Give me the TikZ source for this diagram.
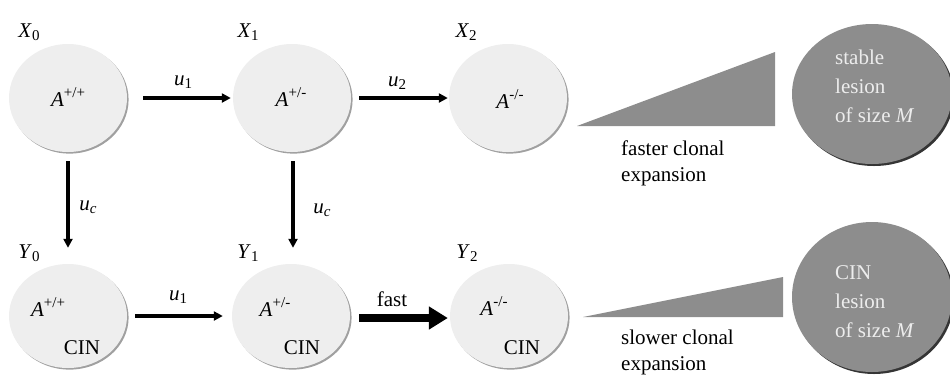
\documentclass[tikz,border=0pt]{standalone}
\usepackage{fontspec}
\setmainfont{Liberation Serif}
\usetikzlibrary{arrows.meta,shapes.geometric,shadows}
\definecolor{cellfill}{HTML}{EEEEEE}
\definecolor{cellshadow}{HTML}{A0A0A0}
\definecolor{lesionfill}{HTML}{8D8D8D}
\definecolor{lesionshadow}{HTML}{353535}
\definecolor{lesiontext}{HTML}{EDEDED}
\newcommand\sbs[1]{\raisebox{-0.35ex}{\fontsize{15}{15}\selectfont #1}}
\newcommand\sps[1]{\raisebox{0.95ex}{\fontsize{15}{15}\selectfont #1}}
\newcommand\geno[1]{\textit{A}\sps{#1}}
\begin{document}
\begin{tikzpicture}[x=1pt,y=-1pt,
  cell/.style={ellipse, fill=cellfill, inner sep=0pt, minimum width=118pt, minimum height=108pt,
    drop shadow={shadow xshift=1.6pt, shadow yshift=-1.6pt, fill=cellshadow, opacity=1}},
  cellb/.style={cell, minimum height=104pt},
  lesion/.style={ellipse, fill=lesionfill, inner sep=0pt,
    drop shadow={shadow xshift=2pt, shadow yshift=-2pt, fill=lesionshadow, opacity=1}},
  txt/.style={font=\fontsize{21}{25}\selectfont, inner sep=0pt},
  lestxt/.style={txt, text=lesiontext, align=left, anchor=west, font=\fontsize{21}{29}\selectfont},
  captxt/.style={txt, align=left, anchor=west, font=\fontsize{21}{26}\selectfont},
  arr/.style={line width=3.4pt, -{Triangle[length=9pt,width=9pt]}},
  fastarr/.style={line width=8pt, -{Triangle[length=19pt,width=22pt]}}]
\useasboundingbox (0,0) rectangle (950,376);

% cells
\node[cell] (X0) at (68,98) {};
\node[cell] (X1) at (292,98) {};
\node[cell] (X2) at (508,98) {};
\node[cellb] (Y0) at (68,316) {};
\node[cellb] (Y1) at (291,316) {};
\node[cellb] (Y2) at (509,316) {};

% state labels
\node[txt] (lX0) at (29,32) {\textit{X}\sbs{0}};
\node[txt] (lX1) at (248,32) {\textit{X}\sbs{1}};
\node[txt] (lX2) at (466,32) {\textit{X}\sbs{2}};
\node[txt] (lY0) at (29,253) {\textit{Y}\sbs{0}};
\node[txt] (lY1) at (248,253) {\textit{Y}\sbs{1}};
\node[txt] (lY2) at (467,253) {\textit{Y}\sbs{2}};

% genotypes
\node[txt] (gX0) at (68,97) {\geno{+/+}};
\node[txt] (gX1) at (291,97) {\geno{+/-}};
\node[txt] (gX2) at (510,99) {\geno{-/-}};
\node[txt] (gY0) at (48,307) {\geno{+/+}};
\node[txt] (gY1) at (275,307) {\geno{+/-}};
\node[txt] (gY2) at (494,306) {\geno{-/-}};
\node[txt] (cY0) at (82,348) {CIN};
\node[txt] (cY1) at (302,348) {CIN};
\node[txt] (cY2) at (522,348) {CIN};

% arrows
\draw[arr] ([xshift=16pt]X0.east) -- ([xshift=-2pt]X1.west);
\draw[arr] ([xshift=8pt]X1.east) -- ([xshift=-1pt]X2.west);
\draw[arr] ([yshift=-9pt]X0.south) -- ([yshift=16pt]Y0.north);
\draw[arr] ([xshift=1pt,yshift=-9pt]X1.south) -- ([xshift=2pt,yshift=16pt]Y1.north);
\draw[arr] ([xshift=8pt]Y0.east) -- ([xshift=-9pt]Y1.west);
\draw[fastarr] ([xshift=9pt,yshift=-2pt]Y1.east) -- ([xshift=-2pt,yshift=-2pt]Y2.west);

% rate labels
\node[txt] (r1) at (183,82) {\textit{u}\sbs{1}};
\node[txt] (r2) at (397,83) {\textit{u}\sbs{2}};
\node[txt] (rc0) at (88,207) {\textit{u}\sbs{\textit{c}}};
\node[txt] (rc1) at (322,210) {\textit{u}\sbs{\textit{c}}};
\node[txt] (r3) at (178,297) {\textit{u}\sbs{1}};
\node[txt] (rf) at (392,299) {fast};

% expansion wedges
\fill[lesionfill] (577,126) -- (775,126) -- (775,52) -- cycle;
\fill[lesionfill] (583,317) -- (783,317) -- (783,277) -- cycle;
\node[captxt] (e1) at (621,163) {faster clonal\\expansion};
\node[captxt] (e2) at (621,352) {slower clonal\\expansion};

% lesions
\node[lesion, minimum width=160pt, minimum height=140pt] (L1) at (872,94) {};
\node[lesion, minimum width=160pt, minimum height=150pt] (L2) at (872,297) {};
\node[lestxt] (t1) at (835,86) {stable\\lesion\\of size \textit{M}};
\node[lestxt] (t2) at (835,302) {CIN\\lesion\\of size \textit{M}};
\end{tikzpicture}
\end{document}
